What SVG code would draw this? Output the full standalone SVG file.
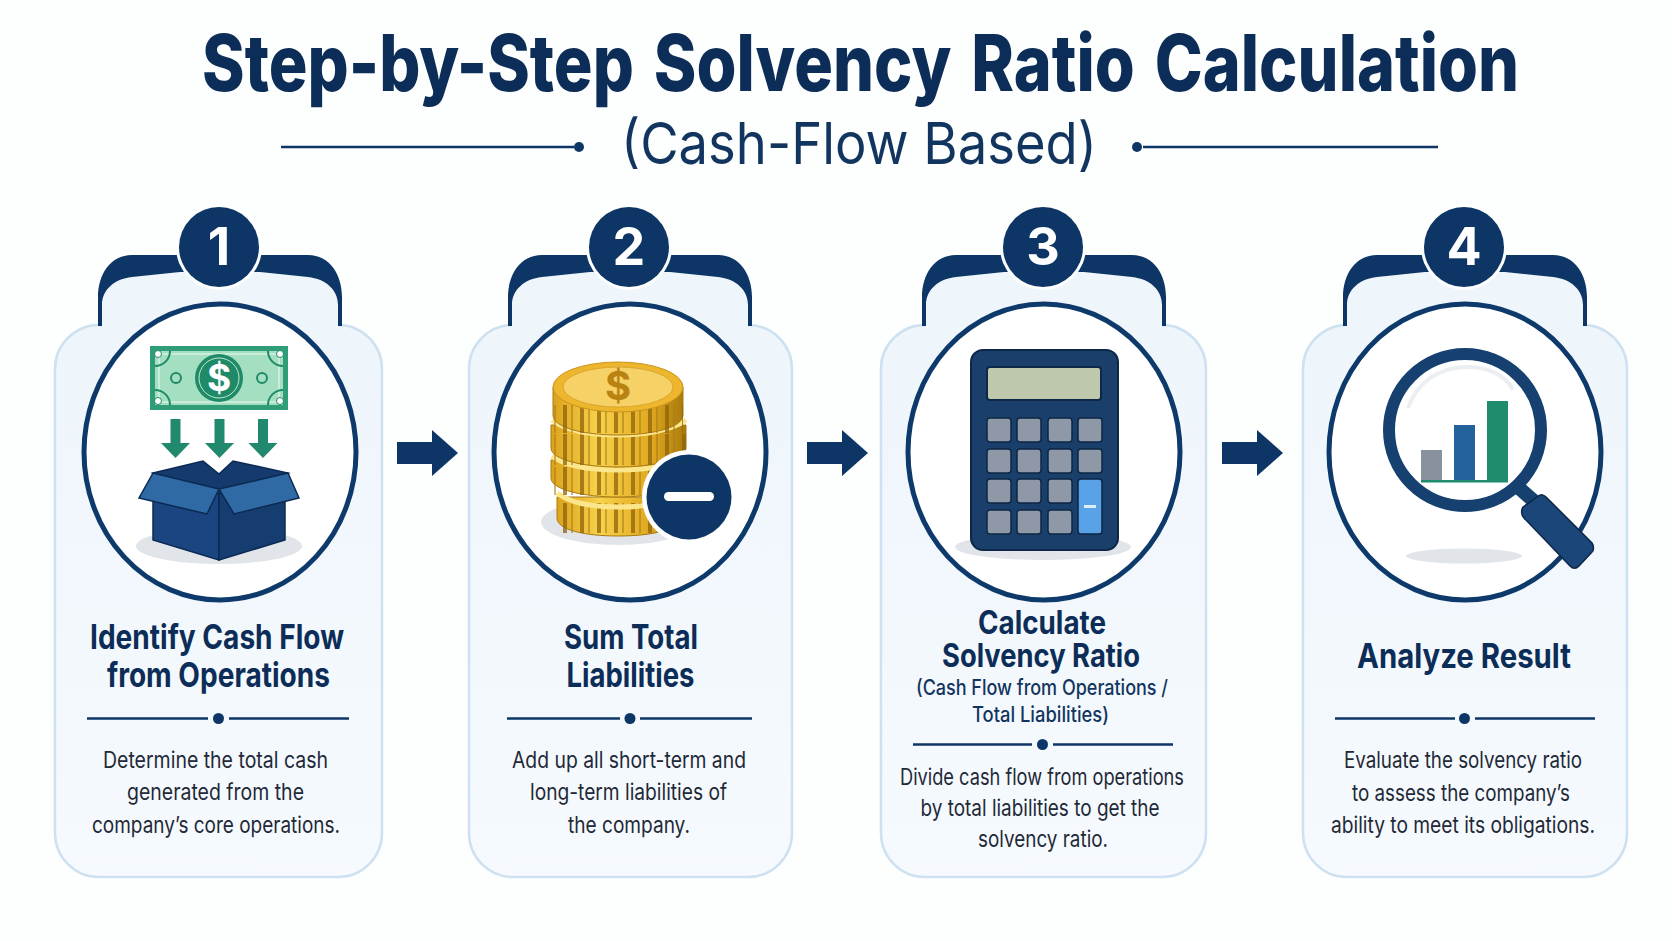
<svg xmlns="http://www.w3.org/2000/svg" width="1672" height="941" viewBox="0 0 1672 941">
<style>
text{font-family:Inter,"Noto Sans","Liberation Sans",sans-serif;text-anchor:middle}
.title{font-size:78px;font-weight:800;fill:#0c2d57;word-spacing:7px}
.sub{font-size:58px;font-weight:400;fill:#12355f}
.num{font-size:52px;font-weight:700;fill:#fff}
.head{font-size:34px;font-weight:700;fill:#0c2d57}
.head3{font-size:32px;font-weight:700;fill:#0c2d57}
.paren{font-size:21px;font-weight:500;fill:#12355f}
.body{font-size:22.5px;font-weight:400;fill:#1f2937}
.card{fill:url(#cardFill);stroke:#cde1f1;stroke-width:2.5}
.tabfill{fill:#eef5fb}
.ring{fill:#fff;stroke:#0d3a6b;stroke-width:5}
.navy{fill:#0d3666}
.rule{stroke:#0d3666;stroke-width:2.5;fill:none}
.shadow{fill:#e1e5ea}
.coinside{fill:url(#gold);stroke:#a87a14}
.rim{fill:none;stroke:#fbe68c;stroke-width:5}
</style>
<defs>
<linearGradient id="cardFill" x1="0" y1="0" x2="0" y2="1"><stop offset="0" stop-color="#eef5fb"/><stop offset="1" stop-color="#f6fafe"/></linearGradient>
<linearGradient id="gold" x1="0" y1="0" x2="1" y2="0"><stop offset="0" stop-color="#dca31c"/><stop offset=".35" stop-color="#f7d24a"/><stop offset=".75" stop-color="#e0a820"/><stop offset="1" stop-color="#a97a0c"/></linearGradient>
<pattern id="ridges" width="17" height="40" patternUnits="userSpaceOnUse"><rect x="2" width="4" height="40" fill="#8f620b" opacity=".75"/><rect x="10" width="2" height="40" fill="#a87a14" opacity=".55"/></pattern>
<!-- Tapered tab that sits over each card's top edge; origin on the card's centre line -->
<g id="tab">
<path class="tabfill" d="M-118 330V305C-118 290-106 279-88 277L-40 272H40L88 277C106 279 118 290 118 305V330Z"/>
<path class="navy" d="M-122 326V297C-122 275-110 255-88 255H88C110 255 122 275 122 297V326H118V305C118 290 106 279 88 277L40 272H-40L-88 277C-106 279-118 290-118 305V326Z"/>
</g>
<path id="arrow" class="navy" d="M0-11H35V-23L61 0 35 23V11H0Z"/>
<path id="down" fill="#218a6e" d="M-5 0H5V24H14.500L0 39-14.500 24H-5Z"/>
</defs>
<rect width="1672" height="941" fill="#fdfefe"/>

<g id="title">
<text class="title" x="860.500" y="91" textLength="1317" lengthAdjust="spacingAndGlyphs">Step-by-Step Solvency Ratio Calculation</text>
<text class="sub" x="859" y="164" textLength="476" lengthAdjust="spacingAndGlyphs">(Cash-Flow Based)</text>
<path class="rule" d="M281 147H574M1143 147H1438"/>
<circle class="navy" cx="579" cy="147" r="5"/><circle class="navy" cx="1137" cy="147" r="5"/>
</g>

<g id="connectors">
<use href="#arrow" x="397" y="453"/>
<use href="#arrow" x="807" y="453"/>
<use href="#arrow" x="1222" y="453"/>
</g>

<g id="step-1">
<rect class="card" x="55" y="325" width="327" height="552" rx="44"/>
<use href="#tab" x="220"/>
<circle cx="219" cy="247" r="43" fill="#fdfefe"/><circle class="navy" cx="219" cy="247" r="40"/>
<text class="num" x="219" y="265">1</text>
<ellipse class="ring" cx="220" cy="452" rx="136" ry="148"/>
<rect x="150" y="346" width="138" height="64" fill="#2f9d78"/>
<rect x="155" y="351" width="128" height="54" fill="#a5dfc1"/>
<rect x="159" y="354" width="120" height="48" fill="none" stroke="#d6f2e2" stroke-width="1.500"/>
<circle cx="219" cy="378" r="24" fill="#1f8a68"/><circle cx="219" cy="378" r="20" fill="none" stroke="#bfe9d1" stroke-width="1"/>
<text x="219" y="391" font-size="37" font-weight="700" fill="#fff">$</text>
<g fill="#a5dfc1" stroke="#1f8a68" stroke-width="2"><circle cx="176" cy="378" r="5"/><circle cx="262" cy="378" r="5"/></g>
<g fill="none" stroke="#1f8a68" stroke-width="2"><path d="M170 351a15 15 0 0 1-15 15"/><path d="M268 351a15 15 0 0 0 15 15"/><path d="M170 405a15 15 0 0 0-15-15"/><path d="M268 405a15 15 0 0 1 15-15"/></g>
<g fill="#fff" stroke="#1f8a68" stroke-width="1"><circle cx="158" cy="354" r="3.500"/><circle cx="280" cy="354" r="3.500"/><circle cx="158" cy="401" r="3.500"/><circle cx="280" cy="401" r="3.500"/></g>
<use href="#down" x="175.500" y="419"/><use href="#down" x="219.500" y="419"/><use href="#down" x="263" y="419"/>
<ellipse class="shadow" cx="219" cy="546" rx="83" ry="18"/>
<path d="M153 474L219 494V560L153 540Z" fill="#1a4580" stroke="#0b2a52" stroke-width="1.500"/>
<path d="M285 474L219 494V560L285 540Z" fill="#163d70" stroke="#0b2a52" stroke-width="1.500"/>
<path d="M153 473L203 461 219 474 233 461 288 473 219 494Z" fill="#143a6e" stroke="#0b2a52" stroke-width="1.500"/>
<path d="M153 473L139 498 207 514 219 489Z" fill="#2f6aa5" stroke="#0b2a52" stroke-width="1.500"/>
<path d="M288 473L299 498 234 514 219 489Z" fill="#2f6aa5" stroke="#0b2a52" stroke-width="1.500"/>
<text class="head"><tspan x="217" y="649" textLength="254" lengthAdjust="spacingAndGlyphs">Identify Cash Flow</tspan><tspan x="218.500" y="687" textLength="223" lengthAdjust="spacingAndGlyphs">from Operations</tspan></text>
<path class="rule" d="M87 718.500H208M229 718.500H349"/><circle class="navy" cx="218.500" cy="718.500" r="5.500"/>
<text class="body"><tspan x="215.500" y="768" textLength="225" lengthAdjust="spacingAndGlyphs">Determine the total cash</tspan><tspan x="215.500" y="800" textLength="177" lengthAdjust="spacingAndGlyphs">generated from the</tspan><tspan x="216" y="833" textLength="248" lengthAdjust="spacingAndGlyphs">company’s core operations.</tspan></text>
</g>

<g id="step-2">
<rect class="card" x="469" y="325" width="323" height="552" rx="44"/>
<use href="#tab" x="630"/>
<circle cx="629" cy="247" r="43" fill="#fdfefe"/><circle class="navy" cx="629" cy="247" r="40"/>
<text class="num" x="629" y="265">2</text>
<ellipse class="ring" cx="630" cy="452" rx="136" ry="148"/>
<ellipse class="shadow" cx="618" cy="522" rx="77" ry="23"/>
<g id="coins">
<path class="coinside" d="M557 497V518C557 530 585 536 618 536S680 530 680 518V497Z"/><rect x="557" y="503" width="123" height="30" fill="url(#ridges)"/>
<path class="rim" d="M557 493C570 503 590 507 618 507S670 503 680 493"/>
<path class="coinside" d="M551 460V478C551 490 585 497 618 497S685 490 685 478V460Z"/><rect x="552" y="467" width="133" height="28" fill="url(#ridges)"/>
<path class="rim" d="M552 456C565 466 590 470 618 470S672 466 685 456"/>
<path class="coinside" d="M551 425V448C551 460 585 467 618 467S686 460 686 448V425Z"/><rect x="552" y="434" width="134" height="31" fill="url(#ridges)"/>
<path class="rim" d="M552 420C565 430 590 435 618 435S672 430 686 420"/>
<path class="coinside" d="M553 387V415C553 428 585 435 618 435S683 428 683 415V387Z"/><rect x="553" y="405" width="130" height="28" fill="url(#ridges)"/>
<ellipse cx="618" cy="387" rx="65" ry="25" fill="#edb62c" stroke="#c9941f"/>
<ellipse cx="618" cy="387" rx="55" ry="20" fill="#f6d266" stroke="#d9a631"/>
<text x="618" y="400" font-size="40" font-weight="700" fill="#b98312">$</text>
</g>
<circle cx="689" cy="497" r="47" fill="#fff"/><circle class="navy" cx="689" cy="497" r="42.500"/>
<rect x="664" y="492" width="50" height="9" rx="4.500" fill="#fff"/>
<text class="head"><tspan x="631" y="649" textLength="134" lengthAdjust="spacingAndGlyphs">Sum Total</tspan><tspan x="630.500" y="687" textLength="128" lengthAdjust="spacingAndGlyphs">Liabilities</tspan></text>
<path class="rule" d="M507 718.500H620M640 718.500H752"/><circle class="navy" cx="630" cy="718.500" r="5.500"/>
<text class="body"><tspan x="629" y="768" textLength="234" lengthAdjust="spacingAndGlyphs">Add up all short-term and</tspan><tspan x="628.500" y="800" textLength="197" lengthAdjust="spacingAndGlyphs">long-term liabilities of</tspan><tspan x="629" y="833" textLength="122" lengthAdjust="spacingAndGlyphs">the company.</tspan></text>
</g>

<g id="step-3">
<rect class="card" x="881" y="325" width="325" height="552" rx="44"/>
<use href="#tab" x="1044"/>
<circle cx="1043" cy="247" r="43" fill="#fdfefe"/><circle class="navy" cx="1043" cy="247" r="40"/>
<text class="num" x="1043" y="265">3</text>
<ellipse class="ring" cx="1044" cy="452" rx="136" ry="148"/>
<ellipse class="shadow" cx="1043" cy="547" rx="88" ry="13"/>
<rect x="971" y="350" width="147" height="200" rx="12" fill="#1b3f6b" stroke="#0c2747" stroke-width="2"/>
<rect x="987" y="367" width="114" height="33" rx="3" fill="#bec8ac" stroke="#0c2747" stroke-width="2"/>
<g fill="#8f98a6" stroke="#0c2747" stroke-width="1.500">
<rect x="987" y="418" width="24" height="24" rx="3"/><rect x="1017" y="418" width="24" height="24" rx="3"/><rect x="1048" y="418" width="24" height="24" rx="3"/><rect x="1078" y="418" width="24" height="24" rx="3"/>
<rect x="987" y="449" width="24" height="24" rx="3"/><rect x="1017" y="449" width="24" height="24" rx="3"/><rect x="1048" y="449" width="24" height="24" rx="3"/><rect x="1078" y="449" width="24" height="24" rx="3"/>
<rect x="987" y="479" width="24" height="24" rx="3"/><rect x="1017" y="479" width="24" height="24" rx="3"/><rect x="1048" y="479" width="24" height="24" rx="3"/>
<rect x="987" y="510" width="24" height="24" rx="3"/><rect x="1017" y="510" width="24" height="24" rx="3"/><rect x="1048" y="510" width="24" height="24" rx="3"/>
</g>
<rect x="1078" y="479" width="24" height="55" rx="3" fill="#5aa2e8" stroke="#0c2747" stroke-width="1.500"/>
<rect x="1084" y="505" width="12" height="3" fill="#dcecfb"/>
<text class="head3"><tspan x="1042" y="634" textLength="128" lengthAdjust="spacingAndGlyphs">Calculate</tspan><tspan x="1041" y="667" textLength="198" lengthAdjust="spacingAndGlyphs">Solvency Ratio</tspan></text>
<text class="paren"><tspan x="1042" y="695" textLength="252" lengthAdjust="spacingAndGlyphs">(Cash Flow from Operations /</tspan><tspan x="1040.500" y="722" textLength="137" lengthAdjust="spacingAndGlyphs">Total Liabilities)</tspan></text>
<path class="rule" d="M913 744.500H1032M1053 744.500H1173"/><circle class="navy" cx="1042.500" cy="744.500" r="5.500"/>
<text class="body"><tspan x="1042" y="785" textLength="284" lengthAdjust="spacingAndGlyphs">Divide cash flow from operations</tspan><tspan x="1040" y="816" textLength="239" lengthAdjust="spacingAndGlyphs">by total liabilities to get the</tspan><tspan x="1043" y="847" textLength="130" lengthAdjust="spacingAndGlyphs">solvency ratio.</tspan></text>
</g>

<g id="step-4">
<rect class="card" x="1303" y="325" width="324" height="552" rx="44"/>
<use href="#tab" x="1465"/>
<circle cx="1464" cy="247" r="43" fill="#fdfefe"/><circle class="navy" cx="1464" cy="247" r="40"/>
<text class="num" x="1464" y="265">4</text>
<ellipse class="ring" cx="1465" cy="452" rx="136" ry="148"/>
<ellipse class="shadow" cx="1464" cy="556" rx="58" ry="7.500"/>
<path d="M1518 487L1536 503" stroke="#15406f" stroke-width="14" fill="none"/>
<circle cx="1465" cy="430" r="76" fill="#fff" stroke="#15406f" stroke-width="12"/>
<path d="M1408 408C1417 381 1440 368 1465 367 1490 366 1508 378 1513 390" fill="none" stroke="#eceff1" stroke-width="4"/>
<rect x="1421" y="450" width="21" height="32" fill="#87929e"/>
<rect x="1454" y="425" width="21" height="57" fill="#22619b"/>
<rect x="1487" y="401" width="21" height="81" fill="#1f8c6e"/>
<rect x="1421" y="480" width="87" height="2.500" fill="#1f8c6e"/>
<path d="M1523 507L1537 497C1540 494 1543 494 1546 497L1592 543C1594 546 1594 550 1592 552L1579 566C1576 569 1573 569 1570 566L1524 518C1521 515 1521 510 1523 507Z" fill="#1a4679" stroke="#0c2747" stroke-width="1.500"/>
<text class="head" x="1464" y="668" textLength="214" lengthAdjust="spacingAndGlyphs">Analyze Result</text>
<path class="rule" d="M1335 718.500H1455M1475 718.500H1595"/><circle class="navy" cx="1464.500" cy="718.500" r="5.500"/>
<text class="body"><tspan x="1463" y="768" textLength="238" lengthAdjust="spacingAndGlyphs">Evaluate the solvency ratio</tspan><tspan x="1461" y="801" textLength="218" lengthAdjust="spacingAndGlyphs">to assess the company’s</tspan><tspan x="1463" y="833" textLength="264" lengthAdjust="spacingAndGlyphs">ability to meet its obligations.</tspan></text>
</g>
</svg>
